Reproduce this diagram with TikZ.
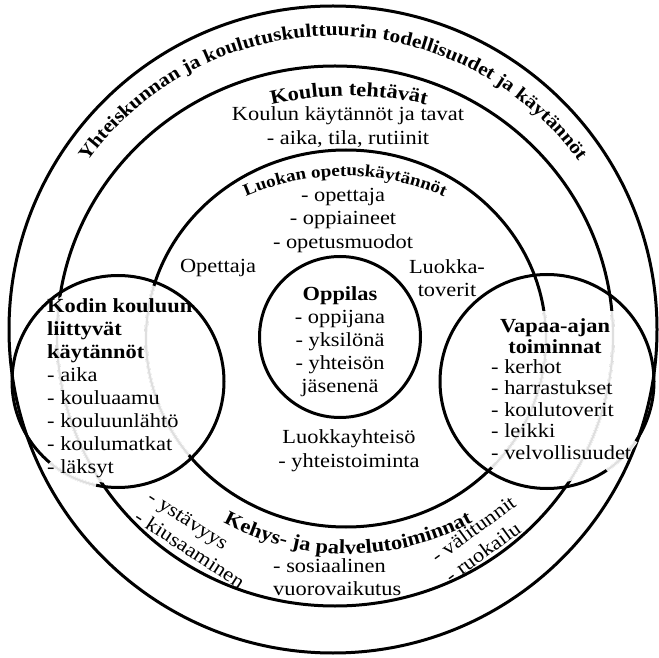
\documentclass[tikz,border=0pt]{standalone}
\usepackage{fontspec}
\setmainfont{Liberation Serif}[FakeStretch=1.12]
\usetikzlibrary{decorations.text}
\begin{document}
\begin{tikzpicture}[x=1pt,y=1pt,
  ring/.style={line width=3pt},
  fade/.style={draw=gray!25,line width=2.2pt},
  blank/.style={draw=white,line width=3.8pt},
  txt/.style={font=\fontsize{20}{23}\selectfont,inner sep=0pt,align=center},
  ltxt/.style={txt,align=left},
  arctext/.style={decorate,decoration={text along path,text align=center,text={#1}}}]
\useasboundingbox (0,0) rectangle (659,657);

% rings of the model
\draw[ring] (333,327.5) ellipse [x radius=324,y radius=323.5];
\draw[ring] (335,321) ellipse [x radius=278,y radius=270];
\draw[ring] (346,318.5) ellipse [x radius=200,y radius=188.5];
\draw[ring] (340,320) circle [radius=80.5];
\draw[ring] (118,275.5) circle [radius=106];
\draw[ring] (547,275.5) circle [radius=107];

% ring lines fade out inside the two side circles
\begin{scope}
  \clip (118,275.5) circle [radius=102];
  \draw[blank] (335,321) ellipse [x radius=278,y radius=270] (346,318.5) ellipse [x radius=200,y radius=188.5];
  \draw[fade] (335,321) ellipse [x radius=278,y radius=270] (346,318.5) ellipse [x radius=200,y radius=188.5];
\end{scope}
\begin{scope}
  \clip (547,275.5) circle [radius=102];
  \clip (400,0) rectangle (700,345);
  \draw[blank] (335,321) ellipse [x radius=278,y radius=270] (346,318.5) ellipse [x radius=200,y radius=188.5];
  \draw[fade] (335,321) ellipse [x radius=278,y radius=270] (346,318.5) ellipse [x radius=200,y radius=188.5];
\end{scope}
% faded stretches of the side circles between the two outer rings
\draw[blank,shift={(118,275.5)}] (230:106) arc [start angle=230,end angle=258,radius=106];
\draw[fade,shift={(118,275.5)}] (230:106) arc [start angle=230,end angle=258,radius=106];
\draw[blank,shift={(547,275.5)}] (-56:107) arc [start angle=-56,end angle=-34,radius=107];
\draw[fade,shift={(547,275.5)}] (-56:107) arc [start angle=-56,end angle=-34,radius=107];

% curved headings
\path[shift={(333,318)},arctext={|\fontsize{19}{22}\selectfont\bfseries|Yhteiskunnan ja koulutuskulttuurin todellisuudet ja käytännöt}]
  (150:303) arc [start angle=150,end angle=30,radius=303];
\path[shift={(349,211)},arctext={|\fontsize{20}{23}\selectfont\bfseries|Koulun tehtävät}]
  (110:350) arc [start angle=110,end angle=70,radius=350];
\path[shift={(345,231)},arctext={|\fontsize{17}{20}\selectfont\bfseries|Luokan opetuskäytännöt}]
  (125:250) arc [start angle=125,end angle=55,radius=250];
\path[shift={(348,363)},arctext={|\fontsize{20}{23}\selectfont\bfseries|Kehys- ja palvelutoiminnat}]
  (225:260) arc [start angle=225,end angle=315,radius=260];

% text blocks
\node[txt,anchor=north,font=\fontsize{20}{24}\selectfont] (koulu) at (348,551)
  {Koulun käytännöt ja tavat\\- aika, tila, rutiinit};
\node[txt,anchor=north,font=\fontsize{20}{23.5}\selectfont] (luokka) at (343,469)
  {- opettaja\\- oppiaineet\\- opetusmuodot};
\node[txt,anchor=base] (opettaja) at (218,384) {Opettaja};
\node[txt,anchor=north] (toverit) at (447,398) {Luokka-\\toverit};
\node[txt,anchor=north] (oppilas) at (340,371)
  {\textbf{Oppilas}\\- oppijana\\- yksilönä\\- yhteisön\\jäsenenä};
\node[txt,anchor=north,font=\fontsize{20}{24}\selectfont] (yhteiso) at (349,228)
  {Luokkayhteisö\\- yhteistoiminta};
\node[ltxt,anchor=north west] (koti) at (47,359)
  {\textbf{Kodin kouluun}\\\textbf{liittyvät}\\\textbf{käytännöt}\\- aika\\- kouluaamu\\- kouluunlähtö\\- koulumatkat\\- läksyt};
\node[txt,anchor=north,font=\fontsize{20}{21.2}\selectfont\bfseries] (vapaa) at (555,339)
  {Vapaa-ajan\\toiminnat};
\node[ltxt,anchor=north west,font=\fontsize{20}{21.5}\selectfont] (harrastus) at (491,298)
  {- kerhot\\- harrastukset\\- koulutoverit\\- leikki\\- velvollisuudet};
\node[ltxt,anchor=north west] (sosiaali) at (273,99)
  {- sosiaalinen\\vuorovaikutus};
\node[ltxt,anchor=west,rotate=-33,font=\fontsize{20}{24}\selectfont] (ystava) at (143,152)
  {- ystävyys\\- kiusaaminen};
\node[ltxt,anchor=west,rotate=36,font=\fontsize{20}{24}\selectfont] (tauko) at (440,89)
  {- välitunnit\\- ruokailu};
\end{tikzpicture}
\end{document}
